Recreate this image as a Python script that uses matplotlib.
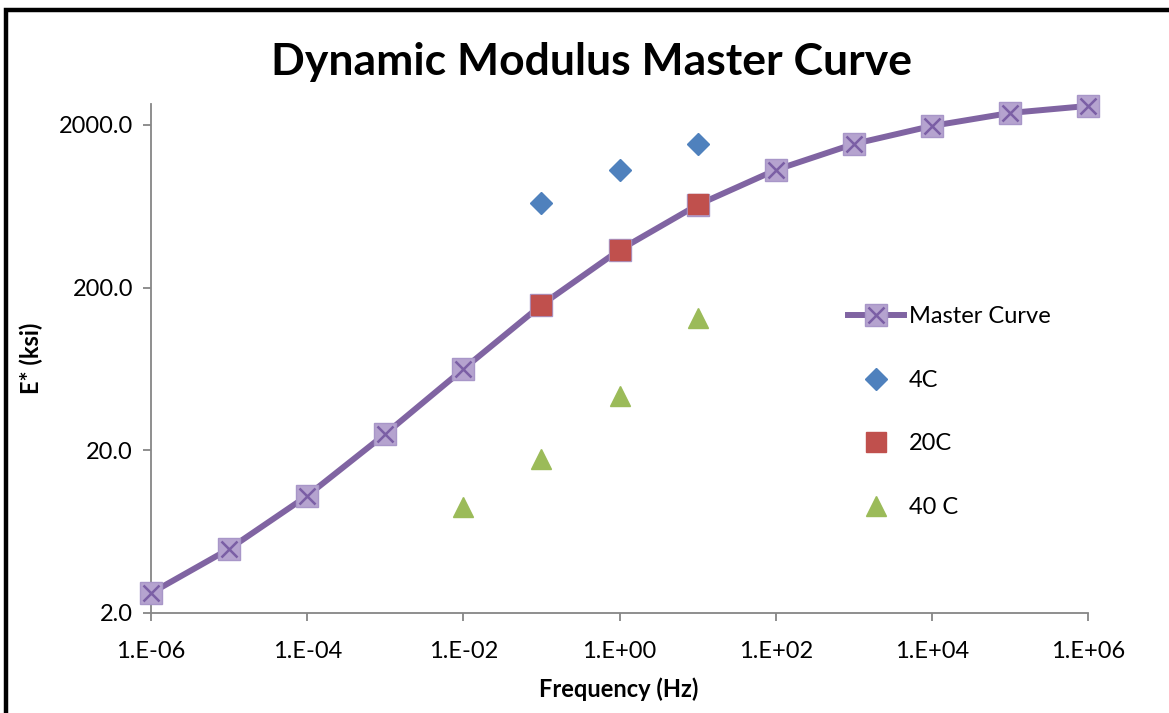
import numpy as np
import matplotlib.pyplot as plt
from matplotlib.patches import Rectangle

plt.rcParams['font.family'] = ['Lato', 'DejaVu Sans']

# donnees de la courbe maitresse
FREQ_MASTER = [1e-6, 1e-5, 1e-4, 1e-3, 1e-2, 1e-1, 1e0, 1e1, 1e2, 1e3, 1e4, 1e5, 1e6]
E_MASTER = [2.65, 4.95, 10.5, 25.2, 63.2, 156.5, 341, 645, 1058, 1528, 1972, 2370, 2618]

# essais par temperature
FREQ_4C = [1e-1, 1e0, 1e1]
E_4C = [663, 1058, 1528]
FREQ_20C = [1e-1, 1e0, 1e1]
E_20C = [156.5, 341, 650]
FREQ_40C = [1e-2, 1e-1, 1e0, 1e1]
E_40C = [8.97, 17.7, 43.2, 130]

X_TICKS = [1e-6, 1e-4, 1e-2, 1e0, 1e2, 1e4, 1e6]
X_LABELS = ["1.E-06", "1.E-04", "1.E-02", "1.E+00", "1.E+02", "1.E+04", "1.E+06"]
Y_TICKS = [2, 20, 200, 2000]
Y_LABELS = ["2.0", "20.0", "200.0", "2000.0"]

fig = plt.figure(figsize=(11.69, 7.13), dpi=100)
ax = fig.add_axes([0.1292, 0.1403, 0.8016, 0.7139])

# courbe maitresse + marqueurs carres avec croix
line, = ax.plot(FREQ_MASTER, E_MASTER, color="#8064a2", lw=4.3, marker="s", ms=15.5,
                mfc="#b5a3cf", mec="#a896c8", mew=1, zorder=3, clip_on=False)
cross, = ax.plot(FREQ_MASTER, E_MASTER, ls="none", marker="x", ms=12, mew=1.8,
                 color="#7b5fa5", zorder=4, clip_on=False)
p4, = ax.plot(FREQ_4C, E_4C, ls="none", marker="D", ms=11, color="#4f81bd", zorder=5)
p20, = ax.plot(FREQ_20C, E_20C, ls="none", marker="s", ms=14, color="#c0504d", zorder=5)
p40, = ax.plot(FREQ_40C, E_40C, ls="none", marker="^", ms=15, color="#9bbb59", zorder=5)

ax.set_xscale("log")
ax.set_yscale("log")
ax.set_xlim(1e-6, 1e6)
ax.set_ylim(2, 2692)
ax.set_xticks(X_TICKS)
ax.set_xticklabels(X_LABELS)
ax.set_yticks(Y_TICKS)
ax.set_yticklabels(Y_LABELS)
ax.minorticks_off()
ax.tick_params(axis="x", length=6, width=1.3, color="#868686", pad=14, labelsize=17)
ax.tick_params(axis="y", length=6, width=1.3, color="#868686", pad=7, labelsize=17)
for s in ["top", "right"]:
    ax.spines[s].set_visible(False)
for s in ["left", "bottom"]:
    ax.spines[s].set_color("#868686")
    ax.spines[s].set_linewidth(1.3)

# titre et noms des axes
fig.text(0.5056, 0.913, "Dynamic Modulus Master Curve", ha="center", va="center",
         fontsize=32, fontweight="bold")
fig.text(0.5296, 0.034, "Frequency (Hz)", ha="center", va="center", fontsize=17, fontweight="bold")
fig.text(0.027, 0.497, "E* (ksi)", ha="center", va="center", rotation=90, fontsize=17, fontweight="bold")

# legende
ax.legend([(line, cross), p4, p20, p40], ["Master Curve", "4C", "20C", "40 C"],
          loc="upper left", bbox_to_anchor=(0.707, 0.600), bbox_transform=fig.transFigure,
          frameon=False, fontsize=17, handlelength=2.4, handletextpad=0.2, labelspacing=1.8)

# cadre noir du graphique
fig.patches.append(Rectangle((0.0055, -0.2), 1.2, 1.186, transform=fig.transFigure,
                             fill=False, ec="black", lw=3.2, zorder=10))

plt.savefig("out.png", dpi=100)
